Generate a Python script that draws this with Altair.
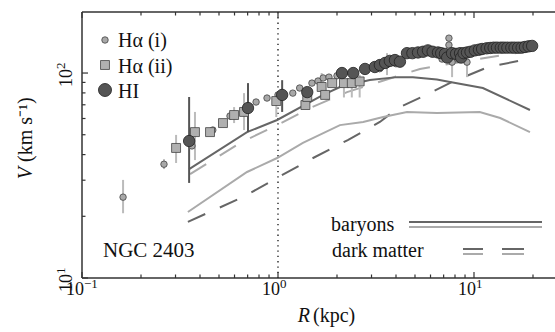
import altair as alt
import pandas as pd

# ---------------- data ----------------
ha1_R = [0.162, 0.262, 0.364, 0.465, 0.569, 0.773, 0.879, 1.00, 1.19, 1.29, 1.49, 1.60, 1.70, 1.82, 2.0, 3.3, 3.6, 4.0, 6.87, 7.45, 7.45, 7.73, 8.28, 9.21]
ha1_V = [24.8, 35.9, 44.1, 52.7, 61.7, 72.2, 75.5, 78.2, 79.8, 84.5, 89.3, 91.4, 94.6, 95.5, 97.0, 105, 110, 111, 117, 148, 137, 113, 117, 113]
ha1_lo = [20.7, 34.0, 44.1, 52.7, 61.7, 72.2, 75.5, 78.2, 79.8, 84.5, 89.3, 91.4, 94.6, 95.5, 97.0, 105, 97.7, 111, 117, 148, 137, 95.5, 117, 95.5]
ha1_hi = [30.1, 38.0, 44.1, 52.7, 61.7, 72.2, 75.5, 78.2, 79.8, 84.5, 89.3, 91.4, 94.6, 95.5, 97.0, 105, 125, 111, 117, 148, 137, 113, 117, 113]

ha2_R = [0.302, 0.377, 0.450, 0.524, 0.597, 0.671, 0.98, 1.38, 1.41, 1.67, 1.74, 1.89, 2.17, 2.38, 2.61]
ha2_V = [43.1, 51.5, 51.5, 57.0, 62.4, 64.6, 73.0, 69.8, 76.4, 85.5, 78.2, 89.3, 89.3, 89.3, 91.0]
ha2_lo = [36.4, 37.6, 51.5, 57.0, 57.0, 52.7, 61.0, 68.0, 76.4, 78.0, 78.2, 89.3, 76.0, 76.0, 76.0]
ha2_hi = [49.9, 64.6, 51.5, 57.0, 68.2, 79.8, 79.8, 80.0, 76.4, 100, 78.2, 89.3, 100, 100, 98.0]

hi_R = [0.352, 0.703, 1.05, 1.41, 2.12, 2.42, 2.78, 3.12, 3.31, 3.52, 3.72, 3.95, 4.19, 4.55, 4.85, 5.18, 5.5, 5.82, 6.15, 6.55, 6.8, 7.11, 7.3, 7.73, 8.1, 8.49, 8.6, 8.85, 9.21, 9.6, 10.1, 10.6, 11.0, 11.6, 12.1, 12.6, 13.1, 13.7, 14.2, 14.8, 15.5, 16.1, 16.8, 17.5, 18.2, 19.0, 19.8]
hi_V = [46.6, 67.5, 78.2, 80.7, 100, 100, 104.7, 107, 109.4, 112, 114.6, 115.7, 113.6, 125, 125, 126, 127, 129, 127, 126, 125, 124, 119, 125, 124, 125, 119, 125, 126, 127, 129, 130, 131, 132, 132.5, 133, 133, 133, 133, 133, 133, 133, 133, 133, 134, 135, 135.6]
hi_err_R = [0.352, 0.703, 1.05]
hi_err_lo = [29.1, 51.5, 64.6]
hi_err_hi = [76.4, 89.3, 92.3]

bar1_R = [0.352, 0.695, 0.99, 1.70, 2.07, 2.94, 4.05, 4.88, 6.47, 7.55, 11.1, 19.3]
bar1_V = [34.0, 51.5, 59.0, 78.2, 85.5, 92.5, 95.5, 95.5, 93.0, 90.4, 84.5, 66.0]
bar2_R = [0.347, 0.695, 0.99, 1.34, 2.07, 2.72, 3.44, 4.55, 6.47, 10.7, 13.6, 19.3]
bar2_V = [21.0, 32.9, 38.5, 45.6, 55.7, 57.7, 61.0, 64.6, 63.8, 64.6, 60.3, 51.5]
dm1_R = [0.347, 0.662, 0.99, 1.51, 2.27, 3.31, 4.09, 5.12, 7.73, 11.8, 19.3]
dm1_V = [18.8, 24.8, 30.8, 38.5, 47.1, 57.7, 67.5, 74.6, 90.4, 107, 117.5]
dm2_R = [0.356, 0.640, 0.99, 1.49, 2.25, 5.30, 14.1, 19.3]
dm2_V = [32.1, 45.6, 55.7, 68.2, 80.7, 104.7, 122.5, 128]

x_major = [0.1, 1, 10]
x_minor = [0.2, 0.3, 0.4, 0.5, 0.6, 0.7, 0.8, 0.9, 2, 3, 4, 5, 6, 7, 8, 9, 20]
x_exp = ["\u22121", "0", "1"]
y_major = [10, 100]
y_minor = [20, 30, 40, 50, 60, 70, 80, 90]
y_exp = ["1", "2"]

# ---------------- layout ----------------
W, H = 473, 266
FONT = "Liberation Serif"
xs = alt.Scale(type="log", domain=[0.1, 25.9], nice=False)
ys = alt.Scale(type="log", domain=[10, 198.5], nice=False)

def X(f="R"):
    return alt.X(f"{f}:Q", scale=xs, axis=None)

def Y(f="V"):
    return alt.Y(f"{f}:Q", scale=ys, axis=None)

def line(R, V, color, dash=None):
    df = pd.DataFrame({"R": R, "V": V, "o": range(len(R))})
    kw = dict(color=color, strokeWidth=2, clip=True)
    if dash:
        kw["strokeDash"] = dash
    return alt.Chart(df).mark_line(**kw).encode(x=X(), y=Y(), order="o:Q")

ha1 = pd.DataFrame({"R": ha1_R, "V": ha1_V, "lo": ha1_lo, "hi": ha1_hi})
ha2 = pd.DataFrame({"R": ha2_R, "V": ha2_V, "lo": ha2_lo, "hi": ha2_hi})
hi = pd.DataFrame({"R": hi_R, "V": hi_V})
hie = pd.DataFrame({"R": hi_err_R, "lo": hi_err_lo, "hi": hi_err_hi})

layers = []
# dotted line at R = 1
layers.append(alt.Chart(pd.DataFrame({"R": [1]})).mark_rule(color="#111", strokeWidth=1.3, strokeDash=[1.3, 4]).encode(x=X()))
# model curves
layers.append(line(dm2_R, dm2_V, "#aaaaaa", [19, 16]))
layers.append(line(dm1_R, dm1_V, "#666666", [19, 16]))
layers.append(line(bar2_R, bar2_V, "#aaaaaa"))
layers.append(line(bar1_R, bar1_V, "#666666"))
# error bars
layers.append(alt.Chart(ha1).mark_rule(color="#bbbbbb", strokeWidth=2).encode(x=X(), y=Y("lo"), y2="hi:Q"))
layers.append(alt.Chart(ha2).mark_rule(color="#bbbbbb", strokeWidth=2).encode(x=X(), y=Y("lo"), y2="hi:Q"))
layers.append(alt.Chart(hie).mark_rule(color="#555555", strokeWidth=2).encode(x=X(), y=Y("lo"), y2="hi:Q"))
# points
layers.append(alt.Chart(ha1).mark_point(shape="circle", filled=True, size=42, fill="#a8a8a8", stroke="#444", strokeWidth=0.8, opacity=1).encode(x=X(), y=Y()))
layers.append(alt.Chart(ha2).mark_point(shape="square", filled=True, size=80, fill="#b0b0b0", stroke="#444", strokeWidth=0.8, opacity=1).encode(x=X(), y=Y()))
layers.append(alt.Chart(hi).mark_point(shape="circle", filled=True, size=130, fill="#555555", stroke="#222", strokeWidth=0.8, opacity=1).encode(x=X(), y=Y()))

# spines
layers.append(alt.Chart(pd.DataFrame({"a": [0]})).mark_rule(color="#333", strokeWidth=1.5).encode(x=alt.value(0), y=alt.value(0), y2=alt.value(H)))
layers.append(alt.Chart(pd.DataFrame({"a": [0]})).mark_rule(color="#333", strokeWidth=1.5).encode(x=alt.value(0), x2=alt.value(W), y=alt.value(H)))
layers.append(alt.Chart(pd.DataFrame({"a": [0]})).mark_rule(color="#333", strokeWidth=1.5).encode(x=alt.value(0), x2=alt.value(W), y=alt.value(0)))

# ticks
xmaj = pd.DataFrame({"R": x_major, "e": x_exp, "b": ["10"] * 3})
xmin = pd.DataFrame({"R": x_minor})
ymaj = pd.DataFrame({"V": y_major, "e": y_exp, "b": ["10"] * 2})
ymin = pd.DataFrame({"V": y_minor})
for df, L in [(xmaj, 6), (xmin, 3.5)]:
    layers.append(alt.Chart(df).mark_rule(color="#333", strokeWidth=1.2).encode(x=X(), y=alt.value(H), y2=alt.value(H - L)))
    layers.append(alt.Chart(df).mark_rule(color="#333", strokeWidth=1.2).encode(x=X(), y=alt.value(0), y2=alt.value(L)))
for df, L in [(ymaj, 6), (ymin, 3.5)]:
    layers.append(alt.Chart(df).mark_rule(color="#333", strokeWidth=1.2).encode(y=Y(), x=alt.value(0), x2=alt.value(L)))

# tick labels
layers.append(alt.Chart(xmaj).mark_text(font=FONT, fontSize=18, align="right", baseline="alphabetic", dx=2, color="#111").encode(x=X(), y=alt.value(H + 17), text="b:N"))
layers.append(alt.Chart(xmaj).mark_text(font=FONT, fontSize=13, align="left", baseline="alphabetic", dx=2, dy=-7, color="#111").encode(x=X(), y=alt.value(H + 17), text="e:N"))
layers.append(alt.Chart(ymaj).mark_text(font=FONT, fontSize=18, align="right", baseline="alphabetic", angle=270, dx=4, color="#111").encode(y=Y(), x=alt.value(-10), text="b:N"))
layers.append(alt.Chart(ymaj).mark_text(font=FONT, fontSize=13, align="left", baseline="alphabetic", angle=270, dx=4, dy=-7, color="#111").encode(y=Y(), x=alt.value(-10), text="e:N"))

def txt(s, x, y, size=20, align="left", style="normal", angle=0, dx=0):
    return alt.Chart(pd.DataFrame({"t": [s]})).mark_text(font=FONT, fontSize=size, align=align, baseline="alphabetic", fontStyle=style, angle=angle, dx=dx, color="#111").encode(x=alt.value(x), y=alt.value(y), text="t:N")

# axis titles
layers.append(txt("R", 228, 310, 20, "right", "italic"))
layers.append(txt("(kpc)", 231, 310, 20, "left"))
layers.append(txt("V", -50, 150, 20, "right", "italic", 270, -5))
layers.append(txt("(km s\u207b\u00b9)", -50, 150, 20, "left", "normal", 270, 0))

# in-plot legend (top-left)
layers.append(alt.Chart(pd.DataFrame({"a": [0]})).mark_point(shape="circle", filled=True, size=42, fill="#a8a8a8", stroke="#444", strokeWidth=0.8, opacity=1).encode(x=alt.value(23), y=alt.value(28)))
layers.append(alt.Chart(pd.DataFrame({"a": [0]})).mark_point(shape="square", filled=True, size=80, fill="#b0b0b0", stroke="#444", strokeWidth=0.8, opacity=1).encode(x=alt.value(23), y=alt.value(53)))
layers.append(alt.Chart(pd.DataFrame({"a": [0]})).mark_point(shape="circle", filled=True, size=170, fill="#555555", stroke="#222", strokeWidth=0.8, opacity=1).encode(x=alt.value(23), y=alt.value(78)))
layers.append(txt("H\u03b1 (i)", 36, 35))
layers.append(txt("H\u03b1 (ii)", 36, 61))
layers.append(txt("HI", 36, 86))

# bottom-right legend
layers.append(txt("baryons", 249, 219))
layers.append(txt("dark matter", 250, 245))
layers.append(txt("NGC 2403", 21, 245, 21))
layers.append(alt.Chart(pd.DataFrame({"a": [0]})).mark_rule(color="#666666", strokeWidth=2).encode(x=alt.value(327), x2=alt.value(460), y=alt.value(210)))
layers.append(alt.Chart(pd.DataFrame({"a": [0]})).mark_rule(color="#aaaaaa", strokeWidth=2).encode(x=alt.value(327), x2=alt.value(460), y=alt.value(215)))
for a, b in [(381, 401), (420, 442)]:
    layers.append(alt.Chart(pd.DataFrame({"a": [0]})).mark_rule(color="#666666", strokeWidth=2).encode(x=alt.value(a), x2=alt.value(b), y=alt.value(237)))
    layers.append(alt.Chart(pd.DataFrame({"a": [0]})).mark_rule(color="#aaaaaa", strokeWidth=2).encode(x=alt.value(a), x2=alt.value(b), y=alt.value(242)))

chart = alt.layer(*layers).properties(
    width=W, height=H,
    padding={"left": 82, "top": 12, "right": 0, "bottom": 54},
    autosize=alt.AutoSizeParams(type="none"),
).configure_view(stroke=None)

chart.save("out.html", embed_options={"renderer": "svg", "actions": False})
